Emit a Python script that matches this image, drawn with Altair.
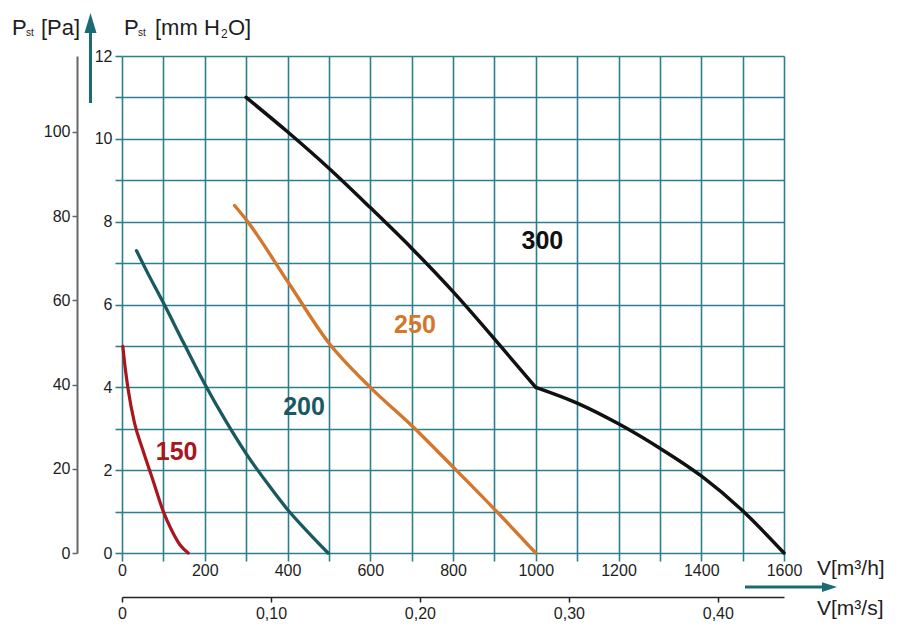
import altair as alt
import pandas as pd

# ---------------- data ----------------
series = ["150", "200", "250", "300"]
colors = ["#a8161e", "#195a60", "#d4772d", "#111111"]

x150 = [2, 8, 15, 30, 50, 75, 100, 120, 140, 160]
y150 = [4.99, 4.45, 3.94, 3.15, 2.5, 1.75, 1.0, 0.55, 0.2, 0.0]

x200 = [35, 60, 100, 150, 200, 250, 300, 350, 400, 450, 498]
y200 = [7.3, 6.8, 6.04, 5.05, 4.08, 3.2, 2.4, 1.7, 1.05, 0.5, 0.0]

x250 = [272, 300, 400, 500, 600, 700, 800, 900, 1000]
y250 = [8.39, 8.05, 6.56, 5.07, 4.0, 3.08, 2.08, 1.06, 0.0]

# the 300 curve has a sharp knee at 1000 m3/h: two pieces
x300a = [300, 400, 500, 600, 700, 800, 900, 1000]
y300a = [11.0, 10.17, 9.29, 8.34, 7.36, 6.31, 5.17, 4.0]
x300b = [1000, 1100, 1200, 1300, 1400, 1500, 1600]
y300b = [4.0, 3.62, 3.12, 2.53, 1.86, 1.02, 0.0]

label_x = [132, 440, 708, 1016]
label_y = [2.43, 3.52, 5.51, 7.53]

xh_ticks = list(range(0, 1700, 100))      # m3/h
ymm_ticks = list(range(0, 13))            # mm H2O
pa_ticks = [0, 20, 40, 60, 80, 100]       # Pa
s_ticks = [0, 0.1, 0.2, 0.3, 0.4]         # m3/s

XMAX = 1600
YMAX = 12
PAMAX = 118
SMAX = 1600 / 3600

# ---------------- tables ----------------
rows = []
pieces = [("150", "150", x150, y150), ("200", "200", x200, y200),
          ("250", "250", x250, y250), ("300", "300a", x300a, y300a),
          ("300", "300b", x300b, y300b)]
for s, seg, xs_, ys_ in pieces:
    for a, b in zip(xs_, ys_):
        rows.append({"s": s, "seg": seg, "q": a, "p": b})
df = pd.DataFrame(rows)
lab = pd.DataFrame({"s": series, "q": label_x, "p": label_y})
sec = pd.DataFrame({"qs": [0, SMAX], "pa": [0, PAMAX]})
one = pd.DataFrame({"k": [0]})

FONT = "Liberation Sans"
GRID = "#2e7f8e"
TEAL = "#1b6b74"
TXT = "#1e1e1e"

xs = alt.Scale(domain=[0, XMAX], nice=False, zero=False)
ys = alt.Scale(domain=[0, YMAX], nice=False)
cs = alt.Scale(domain=series, range=colors)

x_axis = alt.Axis(values=xh_ticks, format="d",
                  labelExpr="datum.value % 200 === 0 ? datum.label : ''",
                  grid=True, gridColor=GRID, gridWidth=1.6, gridOpacity=1,
                  tickColor=GRID, tickWidth=1.6, tickSize=8, domain=False,
                  labelFont=FONT, labelFontSize=16, labelColor=TXT, labelPadding=1,
                  labelFlush=False, labelOverlap=False, title=None)
y_axis = alt.Axis(values=ymm_ticks, format="d",
                  labelExpr="datum.value % 2 === 0 ? datum.label : ''",
                  grid=True, gridColor=GRID, gridWidth=1.6, gridOpacity=1,
                  tickColor=GRID, tickWidth=1.6, tickSize=7, domain=False,
                  labelFont=FONT, labelFontSize=16, labelColor=TXT, labelPadding=3,
                  labelOverlap=False, title=None)

lines = alt.Chart(df).mark_line(interpolate="monotone", strokeCap="round",
                                strokeJoin="round").encode(
    x=alt.X("q:Q", scale=xs, axis=x_axis),
    y=alt.Y("p:Q", scale=ys, axis=y_axis),
    color=alt.Color("s:N", scale=cs, legend=None),
    strokeWidth=alt.StrokeWidth("s:N", scale=alt.Scale(domain=series, range=[3.2, 3.5, 3.2, 4.2]), legend=None),
    detail="seg:N",
)

labels = alt.Chart(lab).mark_text(font=FONT, fontSize=25, fontWeight="bold",
                                  align="center", baseline="middle").encode(
    x=alt.X("q:Q", scale=xs, axis=x_axis),
    y=alt.Y("p:Q", scale=ys, axis=y_axis),
    text="s:N",
    color=alt.Color("s:N", scale=cs, legend=None),
)

# decorations (pixel positions relative to plot origin)
def txt(s, x, y, size, weight="normal"):
    return alt.Chart(one).mark_text(font=FONT, fontSize=size, fontWeight=weight,
                                    align="left", baseline="alphabetic", color=TXT).encode(
        x=alt.value(x), y=alt.value(y), text=alt.value(s))

deco = [
    txt("P", -110, -21, 22), txt("st", -96, -20, 10), txt("[Pa]", -81, -21, 22),
    txt("P", 2, -21, 22), txt("st", 16, -20, 10), txt("[mm H", 33, -21, 22),
    txt("2", 99, -18, 12), txt("O]", 106, -21, 22),
    txt("V[m\u00b3/h]", 695, 519, 21), txt("V[m\u00b3/s]", 695, 559, 21),
    alt.Chart(one).mark_rule(color=TEAL, strokeWidth=3).encode(
        x=alt.value(-31.5), y=alt.value(-27), y2=alt.value(47)),
    alt.Chart(one).mark_point(shape="M -0.6 1 L 0 -1 L 0.6 1 Z", filled=True, size=400,
                              color=TEAL, opacity=1, strokeWidth=0).encode(
        x=alt.value(-31.5), y=alt.value(-33)),
    alt.Chart(one).mark_rule(color=TEAL, strokeWidth=3).encode(
        x=alt.value(623), x2=alt.value(703), y=alt.value(531)),
    alt.Chart(one).mark_point(shape="M -1 -0.65 L 1 0 L -1 0.65 Z", filled=True, size=225,
                              color=TEAL, opacity=1, strokeWidth=0).encode(
        x=alt.value(707.5), y=alt.value(531)),
]

main = alt.layer(lines, labels, *deco)

secondary = alt.Chart(sec).mark_point(opacity=0).encode(
    x=alt.X("qs:Q", scale=alt.Scale(domain=[0, SMAX], nice=False, zero=False),
            axis=alt.Axis(orient="bottom", offset=44, values=s_ticks,
                          labelExpr="datum.value == 0 ? '0' : replace(format(datum.value, '.2f'), '.', ',')",
                          grid=False, domainColor="#222222", domainWidth=1.5,
                          tickColor="#222222", tickWidth=1.5, tickSize=5,
                          labelFont=FONT, labelFontSize=16, labelColor=TXT, labelPadding=3,
                          labelFlush=False, labelOverlap=False, title=None)),
    y=alt.Y("pa:Q", scale=alt.Scale(domain=[0, PAMAX], nice=False),
            axis=alt.Axis(orient="left", offset=45, values=pa_ticks, format="d",
                          grid=False, domainColor="#666666", domainWidth=2,
                          tickColor="#666666", tickWidth=1.5, tickSize=5,
                          labelFont=FONT, labelFontSize=16, labelColor=TXT, labelPadding=2,
                          labelOverlap=False, title=None)),
)

chart = alt.layer(main, secondary).resolve_scale(
    x="independent", y="independent"
).properties(
    width=662, height=497,
    autosize=alt.AutoSizeParams(type="none"),
    padding={"left": 114, "top": 48, "right": 104, "bottom": 72},
    background="white",
).configure_view(stroke="transparent")

chart.save("out.html", embed_options={"renderer": "svg", "actions": False})
